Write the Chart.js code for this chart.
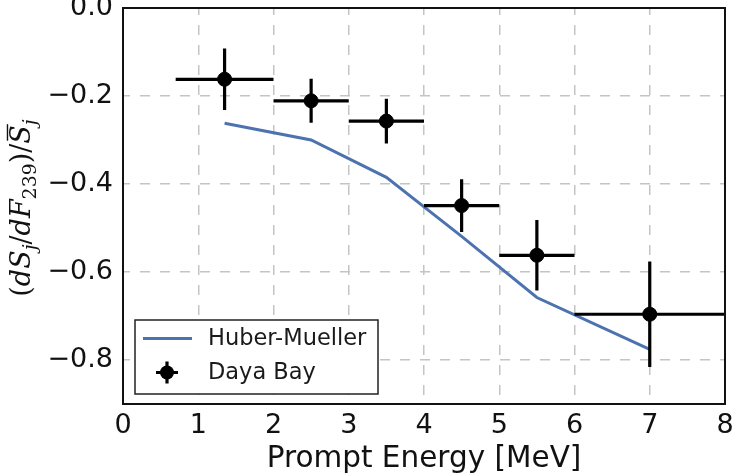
<!DOCTYPE html>
<html>
<head>
<meta charset="utf-8">
<script src="https://cdn.jsdelivr.net/npm/chart.js@4.4.1/dist/chart.umd.min.js"></script>
<style>
  html, body { margin: 0; padding: 0; background: #ffffff; }
  canvas { display: block; }
</style>
</head>
<body>
<canvas id="c" width="733" height="474"></canvas>
<script>
// ---- data ----
const energyCenters = [1.35, 2.5, 3.5, 4.5, 5.5, 7.0];
const binLow        = [0.7, 2.0, 3.0, 4.0, 5.0, 6.0];
const binHigh       = [2.0, 3.0, 4.0, 5.0, 6.0, 8.0];
const dayaBay       = [-0.162, -0.211, -0.257, -0.449, -0.562, -0.696];
const dayaBayErr    = [0.070, 0.050, 0.051, 0.060, 0.080, 0.120];
const huberEnergy   = [1.35, 2.5, 3.5, 4.5, 5.5, 7.0];
const huberMueller  = [-0.262, -0.300, -0.385, -0.519, -0.658, -0.776];
const xTicks        = [0, 1, 2, 3, 4, 5, 6, 7, 8];
const xTickLabels   = ['0', '1', '2', '3', '4', '5', '6', '7', '8'];
const yTicks        = [0, -0.2, -0.4, -0.6, -0.8];
const yTickLabels   = ['0.0', '\u22120.2', '\u22120.4', '\u22120.6', '\u22120.8'];
const seriesNames   = ['Huber-Mueller', 'Daya Bay'];
const xTitle        = 'Prompt Energy [MeV]';

const BLUE = '#4c72b0';
const GRID = '#c4c4c4';
const SANS = "'DejaVu Sans', sans-serif";
const SERIF = "'DejaVu Serif', serif";

// error bars drawn through the chart's scales
const errorBarPlugin = {
  id: 'errorBars',
  beforeDatasetDraw(chart, args) {
    if (args.index !== 1) return;
    const {ctx, scales: {x, y}} = chart;
    ctx.save();
    ctx.strokeStyle = '#000';
    ctx.lineWidth = 3.2;
    ctx.lineCap = 'butt';
    for (let i = 0; i < energyCenters.length; i++) {
      const px = x.getPixelForValue(energyCenters[i]);
      const py = y.getPixelForValue(dayaBay[i]);
      ctx.beginPath();
      ctx.moveTo(x.getPixelForValue(binLow[i]), py);
      ctx.lineTo(x.getPixelForValue(binHigh[i]), py);
      ctx.moveTo(px, y.getPixelForValue(dayaBay[i] + dayaBayErr[i]));
      ctx.lineTo(px, y.getPixelForValue(dayaBay[i] - dayaBayErr[i]));
      ctx.stroke();
    }
    ctx.restore();
  }
};

// frame, legend and y-axis math label
const decorPlugin = {
  id: 'decor',
  afterDraw(chart) {
    const {ctx, chartArea: a} = chart;
    ctx.save();
    // frame
    ctx.strokeStyle = '#111';
    ctx.lineWidth = 2;
    ctx.strokeRect(a.left, a.top, a.right - a.left, a.bottom - a.top);

    // legend (inside, lower left)
    const lx = a.left + 12, ly = a.bottom - 84, lw = 243, lh = 74;
    ctx.fillStyle = '#fff';
    ctx.fillRect(lx, ly, lw, lh);
    ctx.strokeStyle = '#222';
    ctx.lineWidth = 1.5;
    ctx.strokeRect(lx, ly, lw, lh);

    const row1 = ly + 18.5, row2 = ly + 52.5;
    ctx.strokeStyle = BLUE;
    ctx.lineWidth = 3;
    ctx.beginPath();
    ctx.moveTo(lx + 8, row1);
    ctx.lineTo(lx + 57, row1);
    ctx.stroke();

    const mx = lx + 32;
    ctx.strokeStyle = '#000';
    ctx.lineWidth = 3.2;
    ctx.beginPath();
    ctx.moveTo(mx - 11, row2); ctx.lineTo(mx + 11, row2);
    ctx.moveTo(mx, row2 - 11); ctx.lineTo(mx, row2 + 11);
    ctx.stroke();
    ctx.fillStyle = '#000';
    ctx.beginPath();
    ctx.arc(mx, row2, 7, 0, Math.PI * 2);
    ctx.fill();

    ctx.fillStyle = '#1a1a1a';
    ctx.font = '22.5px ' + SANS;
    ctx.textBaseline = 'middle';
    ctx.textAlign = 'left';
    ctx.fillText(chart.data.datasets[0].label, lx + 73, row1 + 1);
    ctx.fillText(chart.data.datasets[1].label, lx + 73, row2 + 1);

    // y-axis label: (dS_j/dF_239)/S̄_j
    const fs = 27, sub = 0.7;
    const parts = [
      {t: '(', it: false}, {t: 'dS', it: true}, {t: 'j', it: true, sub: true},
      {t: '/', it: false}, {t: 'dF', it: true}, {t: '239', it: false, sub: true},
      {t: ')', it: false}, {t: '/', it: false}, {t: 'S', it: true, bar: true},
      {t: 'j', it: true, sub: true}
    ];
    const fontFor = p => (p.it ? 'italic ' : '') + (p.sub ? fs * sub : fs) + 'px ' + SERIF;
    let total = 0;
    parts.forEach(p => { ctx.font = fontFor(p); p.w = ctx.measureText(p.t).width; total += p.w; });
    ctx.translate(24, (a.top + a.bottom) / 2 + 2);
    ctx.rotate(-Math.PI / 2);
    ctx.textAlign = 'left';
    ctx.textBaseline = 'alphabetic';
    ctx.fillStyle = '#111';
    let cx = -total / 2;
    const base = 6;
    parts.forEach(p => {
      ctx.font = fontFor(p);
      const by = base + (p.sub ? fs * 0.22 : 0);
      ctx.fillText(p.t, cx, by);
      if (p.bar) {
        ctx.fillRect(cx + 3, base - fs * 0.86, p.w - 2, 1.4);
      }
      cx += p.w;
    });
    ctx.restore();
  }
};

new Chart(document.getElementById('c'), {
  type: 'scatter',
  data: {
    datasets: [
      {
        label: seriesNames[0],
        data: huberEnergy.map((e, i) => ({x: e, y: huberMueller[i]})),
        showLine: true,
        borderColor: BLUE,
        backgroundColor: BLUE,
        borderWidth: 3,
        pointRadius: 0,
        tension: 0,
        order: 1
      },
      {
        label: seriesNames[1],
        data: energyCenters.map((e, i) => ({x: e, y: dayaBay[i]})),
        pointRadius: 7,
        pointBorderWidth: 1,
        pointBackgroundColor: '#000',
        pointBorderColor: '#000',
        order: 0
      }
    ]
  },
  options: {
    responsive: false,
    animation: false,
    devicePixelRatio: 1,
    layout: {padding: {left: 0, right: 8, top: 7, bottom: 0}},
    plugins: {legend: {display: false}, tooltip: {enabled: false}},
    scales: {
      x: {
        type: 'linear', min: 0, max: 8,
        afterBuildTicks: s => { s.ticks = xTicks.map(v => ({value: v})); },
        afterFit: s => { s.height = 70; s.paddingLeft = 0; s.paddingRight = 0; },
        ticks: {
          callback: (v, i) => xTickLabels[i],
          color: '#111', padding: 6,
          font: {family: SANS, size: 27}
        },
        grid: {color: GRID, lineWidth: 1.5, drawTicks: false, borderDash: [10, 10]},
        border: {display: false, dash: [10, 10], dashOffset: 3},
        title: {
          display: true, text: xTitle, color: '#111',
          font: {family: SANS, size: 29.5, lineHeight: 1}, padding: {top: 0, bottom: 0}
        }
      },
      y: {
        type: 'linear', min: -0.9, max: 0,
        afterBuildTicks: s => { s.ticks = yTicks.map(v => ({value: v})); },
        afterFit: s => { s.width = 123; s.paddingTop = 0; s.paddingBottom = 0; },
        ticks: {
          callback: (v, i) => yTickLabels[i],
          color: '#111', padding: 10,
          font: {family: SANS, size: 27}
        },
        grid: {color: GRID, lineWidth: 1.5, drawTicks: false, borderDash: [10, 10]},
        border: {display: false, dash: [10, 10], dashOffset: 3}
      }
    }
  },
  plugins: [errorBarPlugin, decorPlugin]
});
</script>
</body>
</html>
